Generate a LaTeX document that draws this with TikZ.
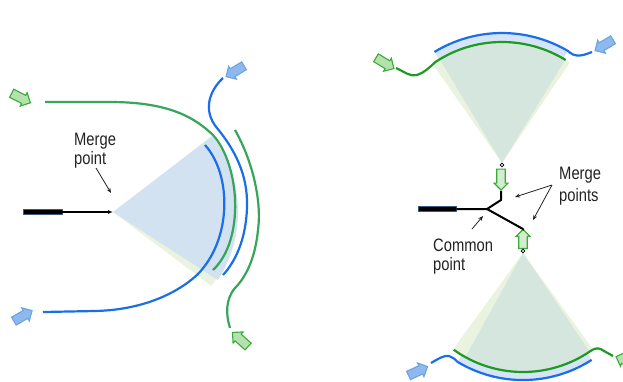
\documentclass[tikz,border=0pt]{standalone}
\usepackage{fontspec}
\setmainfont{Liberation Sans}
\newfontfamily\lblfont[FakeStretch=0.82]{Liberation Sans}
\usetikzlibrary{shapes.arrows,shapes.geometric,arrows.meta}
\definecolor{lgreen}{HTML}{35A65A}
\definecolor{rgreen}{HTML}{1F9A20}
\definecolor{lineblue}{HTML}{1A6FE8}
\definecolor{fanblue}{HTML}{D3E2F0}
\definecolor{fangreen}{HTML}{D5E6DE}
\definecolor{palegreen}{HTML}{EAF3DF}
\definecolor{bandblue}{HTML}{D5E4F7}
\definecolor{agfill}{HTML}{B4E2AE}
\definecolor{agdraw}{HTML}{3BAA3A}
\definecolor{abfill}{HTML}{8DB9EE}
\definecolor{abdraw}{HTML}{6EA2E0}
\definecolor{txt}{HTML}{222222}
\definecolor{barline}{HTML}{3A5A80}
\begin{document}
\begin{tikzpicture}[x=1pt,y=-1pt,
  wave/.style={line width=2.2pt},
  garrow/.style={single arrow, draw=agdraw, fill=agfill, line width=1.1pt,
    minimum height=21pt, inner xsep=0pt, inner ysep=4pt, single arrow head extend=3pt},
  barrow/.style={single arrow, draw=abdraw, fill=abfill, line width=1.1pt,
    minimum height=21pt, inner xsep=0pt, inner ysep=4pt, single arrow head extend=3pt},
  varrow/.style={single arrow, draw=agdraw, fill=agfill!60!white, line width=1.2pt,
    inner xsep=0pt, inner ysep=3.6pt, single arrow head extend=2.8pt},
  bar/.style={draw=barline, fill=black, line width=0.6pt, minimum height=5pt, inner sep=0pt},
  lbl/.style={font=\lblfont\fontsize{18}{20}\selectfont, text=txt, inner sep=0pt, anchor=base west},
  ptr/.style={-{Stealth[length=5pt,width=4pt]}, line width=0.8pt, txt},
  yline/.style={line width=2pt, black},
  vmark/.style={diamond, draw=black, fill=white, inner sep=0pt, minimum size=4pt, line width=0.6pt}
]
\useasboundingbox (0,0) rectangle (623,381);
\clip (0,0) rectangle (623,381);

% ---------------- left panel ----------------
\coordinate (lv) at (113,212);
\fill[palegreen] (lv) -- ++(-34:123) arc[start angle=-34,end angle=37,radius=123] -- cycle;
\fill[fanblue] (lv) -- ++(-37.5:125) arc[start angle=-37.5,end angle=33,radius=125] -- cycle;

\draw[wave, lgreen] (45,102) -- (110,102) .. controls (170,102) and (195,118) .. (213,135)
  .. controls (240,165) and (245,240) .. (213,270);
\draw[wave, lineblue] (43,312) -- (95,311) .. controls (140,310) and (175,295) .. (197,275)
  .. controls (232,240) and (232,175) .. (205,145);
\draw[wave, lineblue] (223,78) .. controls (210,90) and (202,110) .. (217,128)
  .. controls (235,150) and (248,175) .. (247,207)
  .. controls (246,240) and (235,262) .. (223,275);
\draw[wave, lgreen] (235,130) .. controls (252,160) and (262,200) .. (258,230)
  .. controls (255,260) and (245,278) .. (235,288)
  .. controls (225,300) and (226,315) .. (230,328);

\node[bar, minimum width=39pt] (lbar) at (42.5,212) {};
\draw[line width=1.4pt, -{Latex[open,length=5pt,width=4pt]}] (lbar.east) -- (lv);

\node[lbl] (lmerge) at (74,145) {Merge};
\node[lbl] (lpoint) at (74,164) {point};
\coordinate (lptrs) at (96,168);
\coordinate (lptre) at (111,193);
\draw[ptr] (lptrs) -- (lptre);

\node[garrow, rotate=-27] (la1) at (19,97) {};
\node[barrow, rotate=30] (la2) at (21,317) {};
\node[barrow, rotate=211] (la3) at (237,70) {};
\node[garrow, rotate=138] (la4) at (242,341) {};

% ---------------- right panel: top fan ----------------
\coordinate (tv) at (502,163);
\fill[bandblue] (tv) -- ++(-121.3:130) arc[start angle=-121.3,end angle=-59.6,radius=130] -- cycle;
\fill[palegreen] (tv) -- ++(-125:121) arc[start angle=-125,end angle=-56,radius=121] -- cycle;
\fill[fangreen] (tv) -- ++(-121:121) arc[start angle=-121,end angle=-58.5,radius=121] -- cycle;

\draw[wave, lineblue] (tv) ++(-121.3:130) arc[start angle=-121.3,end angle=-59.6,radius=130]
  .. controls (571,54) and (575,56) .. (580,55.5) .. controls (585,55) and (589,53) .. (592,52);
\draw[wave, rgreen] (396,68) .. controls (405,72) and (410,77) .. (417,75)
  .. controls (424,73) and (430,67) .. (435.1,62.2)
  arc[start angle=-123.6,end angle=-58.3,radius=121];

% ---------------- right panel: bottom fan ----------------
\coordinate (bv) at (523,253);
\fill[bandblue] (bv) -- ++(57.3:128) arc[start angle=57.3,end angle=121,radius=128] -- cycle;
\fill[palegreen] (bv) -- ++(54:119) arc[start angle=54,end angle=126,radius=119] -- cycle;
\fill[fangreen] (bv) -- ++(56:119) arc[start angle=56,end angle=119,radius=119] -- cycle;

\draw[wave, lineblue] (431,363) .. controls (438,359) and (444,355) .. (449,356)
  .. controls (452,357) and (455,359) .. (457.6,361.9)
  arc[start angle=121,end angle=57.3,radius=127];
\draw[wave, rgreen] (bv) ++(125.6:119) arc[start angle=125.6,end angle=55.4,radius=119]
  .. controls (596,347) and (600,348) .. (604,351) -- (613,356);

% ---------------- right panel: feed ----------------
\node[bar, minimum width=38pt] (rbar) at (437,209) {};
\coordinate (cp) at (487,209);
\coordinate (m1) at (501,200);
\coordinate (m2) at (523,229);
\node[varrow, minimum height=21pt, rotate=-90] (da) at (501,177.5) {};
\node[varrow, minimum height=19pt, rotate=90] (ua) at (523,241) {};
\draw[yline] (rbar.east) -- (cp) -- (m1) -- (da.tip);
\draw[yline] (cp) -- (m2) -- (ua.tip);
\node[vmark] (tmark) at (502,165) {};
\node[vmark] (bmark) at (523,251) {};

\node[lbl] (rmerge) at (559,179) {Merge};
\node[lbl] (rpoints) at (559,201) {points};
\coordinate (mp) at (552,185);
\coordinate (mpa) at (515,197);
\coordinate (mpb) at (533,220);
\draw[ptr] (mp) -- (mpa);
\draw[ptr] (mp) -- (mpb);

\node[lbl] (ccommon) at (433,251) {Common};
\node[lbl] (cpoint) at (433,270) {point};
\coordinate (cps) at (472,229);
\coordinate (cpe) at (483,216);
\draw[ptr] (cps) -- (cpe);

\node[garrow, rotate=-31] (ra1) at (383,62) {};
\node[barrow, rotate=211] (ra2) at (606,44) {};
\node[barrow, rotate=25] (ra3) at (416,372) {};
\node[garrow, rotate=160] (ra4) at (628,361) {};
\end{tikzpicture}
\end{document}
